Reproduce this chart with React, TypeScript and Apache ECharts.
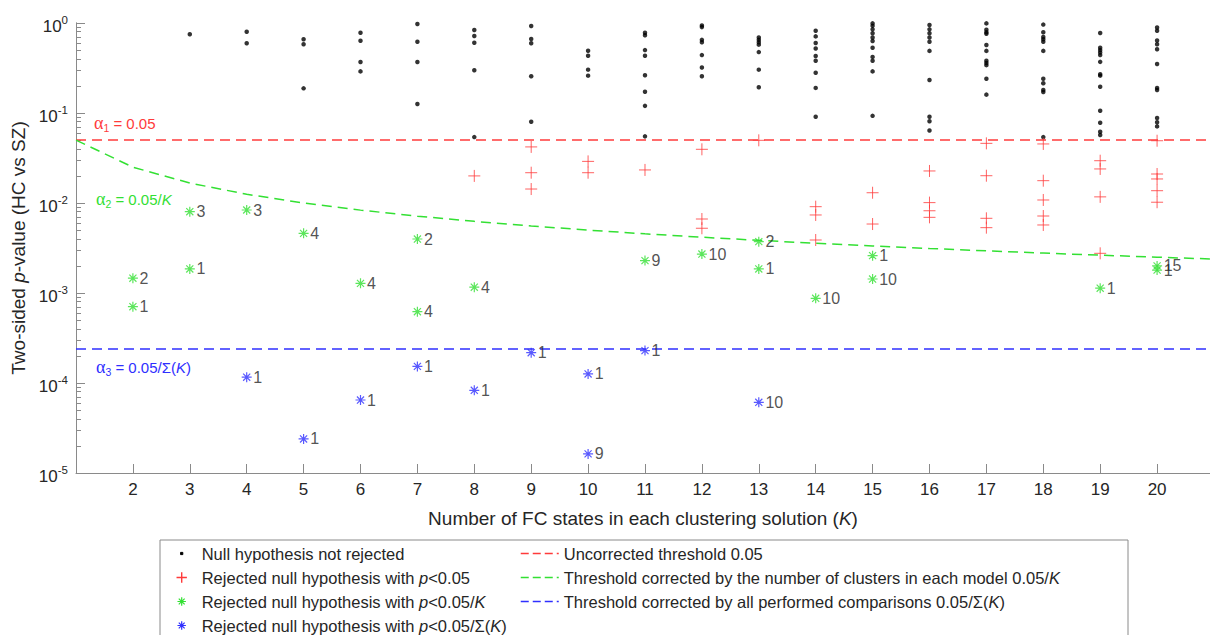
import React, { useEffect, useRef } from "react";
import * as echarts from "echarts";

// ---------- data ----------
const kTicks = [2, 3, 4, 5, 6, 7, 8, 9, 10, 11, 12, 13, 14, 15, 16, 17, 18, 19, 20];

// p-values of comparisons where the null hypothesis was not rejected (index 0 -> K=2)
const notRejectedByK: number[][] = [
  [],
  [0.749],
  [0.8, 0.595],
  [0.659, 0.58, 0.188],
  [0.78, 0.636, 0.369, 0.29],
  [0.975, 0.62, 0.369, 0.126],
  [0.836, 0.717, 0.604, 0.298, 0.054],
  [0.926, 0.664, 0.595, 0.256, 0.08],
  [0.492, 0.433, 0.303, 0.26],
  [0.78, 0.73, 0.5, 0.433, 0.263, 0.172, 0.12, 0.055],
  [0.94, 0.9, 0.65, 0.61, 0.44, 0.32, 0.256],
  [0.69, 0.65, 0.61, 0.575, 0.475, 0.303, 0.193],
  [0.82, 0.71, 0.6, 0.52, 0.43, 0.38, 0.28, 0.19, 0.091],
  [0.99, 0.93, 0.85, 0.77, 0.69, 0.63, 0.53, 0.42, 0.38, 0.29, 0.093],
  [0.95, 0.85, 0.77, 0.69, 0.62, 0.49, 0.233, 0.091, 0.081, 0.064],
  [0.99, 0.84, 0.79, 0.76, 0.57, 0.49, 0.38, 0.36, 0.34, 0.24, 0.16],
  [0.96, 0.79, 0.7, 0.66, 0.62, 0.49, 0.24, 0.214, 0.18, 0.171, 0.054],
  [0.775, 0.53, 0.5, 0.47, 0.44, 0.37, 0.27, 0.26, 0.196, 0.106, 0.078, 0.062, 0.057],
  [0.89, 0.82, 0.64, 0.58, 0.51, 0.35, 0.19, 0.18, 0.088, 0.079, 0.071],
];

// p < 0.05 (index 0 -> K=2)
const rejected05ByK: number[][] = [
  [],
  [],
  [],
  [],
  [],
  [],
  [0.02],
  [0.042, 0.0217, 0.0143],
  [0.029, 0.0217],
  [0.0233],
  [0.0395, 0.00664, 0.00524],
  [0.0497],
  [0.0091, 0.00736, 0.00388],
  [0.013, 0.00584],
  [0.0227, 0.0101, 0.0082, 0.00693],
  [0.046, 0.0201, 0.00676, 0.00532],
  [0.0453, 0.0177, 0.0108, 0.00717, 0.0057],
  [0.0295, 0.0239, 0.0117, 0.00276],
  [0.0492, 0.021, 0.0185, 0.0137, 0.0102],
];

// p < 0.05/K : [K, p, annotation]
const rejectedPerK: [number, number, string][] = [
  [2, 0.00146, "2"],
  [2, 0.000704, "1"],
  [3, 0.008, "3"],
  [3, 0.00185, "1"],
  [4, 0.00836, "3"],
  [5, 0.0046, "4"],
  [6, 0.00128, "4"],
  [7, 0.00398, "2"],
  [7, 0.00062, "4"],
  [8, 0.00116, "4"],
  [11, 0.00229, "9"],
  [12, 0.00271, "10"],
  [13, 0.00372, "2"],
  [13, 0.00185, "1"],
  [14, 0.000873, "10"],
  [15, 0.0026, "1"],
  [15, 0.00143, "10"],
  [19, 0.00113, "1"],
  [20, 0.0018, "1"],
  [20, 0.002, "15"],
];

// p < 0.05/Σ(K) : [K, p, annotation]
const rejectedAll: [number, number, string][] = [
  [4, 0.000116, "1"],
  [5, 0.0000239, "1"],
  [6, 0.0000647, "1"],
  [7, 0.000153, "1"],
  [8, 0.000083, "1"],
  [9, 0.000217, "1"],
  [10, 0.000126, "1"],
  [10, 0.0000163, "9"],
  [11, 0.000229, "1"],
  [13, 0.000061, "10"],
];

// thresholds
const alpha1 = 0.05;
const kLine = [1, 2, 3, 4, 5, 6, 7, 8, 9, 10, 11, 12, 13, 14, 15, 16, 17, 18, 19, 20, 21];
const alpha2ByK = [
  0.05, 0.025, 0.016667, 0.0125, 0.01, 0.008333, 0.007143, 0.00625, 0.005556, 0.005, 0.004545,
  0.004167, 0.003846, 0.003571, 0.003333, 0.003125, 0.002941, 0.002778, 0.002632, 0.0025, 0.002381,
];
const alpha3 = 0.000239; // 0.05 / 209
const yTickValues = [0.00001, 0.0001, 0.001, 0.01, 0.1, 1];
const yMinorTicks = [
  2e-5, 3e-5, 4e-5, 5e-5, 6e-5, 7e-5, 8e-5, 9e-5,
  2e-4, 3e-4, 4e-4, 5e-4, 6e-4, 7e-4, 8e-4, 9e-4,
  2e-3, 3e-3, 4e-3, 5e-3, 6e-3, 7e-3, 8e-3, 9e-3,
  2e-2, 3e-2, 4e-2, 5e-2, 6e-2, 7e-2, 8e-2, 9e-2,
  0.2, 0.3, 0.4, 0.5, 0.6, 0.7, 0.8, 0.9,
];

const seriesNames = [
  "Null hypothesis not rejected",
  "Rejected null hypothesis with p<0.05",
  "Rejected null hypothesis with p<0.05/K",
  "Rejected null hypothesis with p<0.05/Σ(K)",
  "Uncorrected threshold 0.05",
  "Threshold corrected by the number of clusters in each model 0.05/K",
  "Threshold corrected by all performed comparisons 0.05/Σ(K)",
];
const legendRichText: Record<string, string> = {
  [seriesNames[0]]: "Null hypothesis not rejected",
  [seriesNames[1]]: "Rejected null hypothesis with {i|p}<0.05",
  [seriesNames[2]]: "Rejected null hypothesis with {i|p}<0.05/{i|K}",
  [seriesNames[3]]: "Rejected null hypothesis with {i|p}<0.05/Σ({i|K})",
  [seriesNames[4]]: "Uncorrected threshold 0.05",
  [seriesNames[5]]: "Threshold corrected by the number of clusters in each model 0.05/{i|K}",
  [seriesNames[6]]: "Threshold corrected by all performed comparisons 0.05/Σ({i|K})",
};

// ---------- style ----------
const FONT = "'Liberation Sans', Arial, Helvetica, sans-serif";
const TXT = "#262626";
const AXIS = "#8a8a8a";
const RED = "#ff3b3b";
const GREEN = "#33e033";
const BLUE = "#2f2fff";
const DASH = [10, 6];
const LEG_DASH = [8, 4];

const PLUS = "path://M5,0L5,10M0,5L10,5";
const STAR = "path://M5,0L5,10M0,5L10,5M1.46,1.46L8.54,8.54M8.54,1.46L1.46,8.54";
const LEG_DOT = "path://M0,0M10,10M4.2,4.2L5.8,4.2L5.8,5.8L4.2,5.8Z";
const LEG_PLUS = "path://M0,0M10,10M5,1.3L5,8.7M1.3,5L8.7,5";
const LEG_STAR = "path://M0,0M10,10M5,2L5,8M2,5L8,5M2.9,2.9L7.1,7.1M7.1,2.9L2.9,7.1";

const toPoints = (byK: number[][]) =>
  byK.flatMap((ps, i) => ps.map((p) => [kTicks[i], p]));

const pointLabel = {
  show: true,
  position: "right" as const,
  distance: 1,
  color: TXT,
  fontSize: 16,
  fontFamily: FONT,
  formatter: (p: any) => String(p.value[2]),
};

const alphaRich = (color: string) => ({
  a: { fontFamily: "'Liberation Serif', 'DejaVu Serif', serif", fontSize: 18, fill: color, lineHeight: 20 },
  s: { fontFamily: FONT, fontSize: 10.5, fill: color, lineHeight: 8, verticalAlign: "bottom" },
  t: { fontFamily: FONT, fontSize: 15, fill: color, lineHeight: 20 },
  i: { fontFamily: FONT, fontSize: 15, fill: color, lineHeight: 20, fontStyle: "italic" },
});

const legendTextStyle = {
  fontFamily: FONT,
  fontSize: 16.5,
  color: TXT,
  rich: { i: { fontFamily: FONT, fontSize: 16.5, color: TXT, fontStyle: "italic" } },
};

const legendMarker = (name: string, icon: string, color: string, width: number) => ({
  name,
  icon,
  itemStyle: { color, borderColor: color, borderWidth: width, opacity: 1 },
});

function buildOption(): any {
  return {
    animation: false,
    backgroundColor: "#ffffff",
    grid: { left: 76, top: 23, right: 0, bottom: 162, containLabel: false },
    xAxis: {
      type: "value",
      min: 1,
      max: 20.93,
      splitLine: { show: false },
      axisLine: { show: true, lineStyle: { color: AXIS, width: 1 } },
      axisTick: { show: true, inside: true, length: 9, customValues: kTicks, lineStyle: { color: AXIS } },
      axisLabel: { customValues: kTicks, margin: 8, fontSize: 17, fontFamily: FONT, color: TXT },
      name: "{n|Number of FC states in each clustering solution (}{i|K}{n|)}",
      nameLocation: "middle",
      nameGap: 36,
      nameTextStyle: {
        rich: {
          n: { fontSize: 19, fontFamily: FONT, color: TXT },
          i: { fontSize: 19, fontFamily: FONT, color: TXT, fontStyle: "italic" },
        },
      },
    },
    yAxis: [
      {
        type: "log",
        logBase: 10,
        min: 0.00001,
        max: 1,
        splitLine: { show: false },
        axisLine: { show: true, lineStyle: { color: AXIS, width: 1 } },
        axisTick: { show: true, inside: true, length: 9, customValues: yTickValues, lineStyle: { color: AXIS } },
        axisLabel: {
          customValues: yTickValues,
          margin: 8,
          padding: [6, 0, 0, 0],
          formatter: (v: number) => `{b|10}{s|${Math.round(Math.log10(v))}}`,
          rich: {
            b: { fontSize: 17, fontFamily: FONT, color: TXT, lineHeight: 24 },
            s: { fontSize: 11.5, fontFamily: FONT, color: TXT, lineHeight: 12, verticalAlign: "top" },
          },
        },
        name: "{n|Two-sided }{i|p}{n|-value (HC vs SZ)}",
        nameLocation: "middle",
        nameGap: 43,
        nameTextStyle: {
          rich: {
            n: { fontSize: 19, fontFamily: FONT, color: TXT },
            i: { fontSize: 19, fontFamily: FONT, color: TXT, fontStyle: "italic" },
          },
        },
      },
      {
        type: "log",
        logBase: 10,
        min: 0.00001,
        max: 1,
        position: "left",
        offset: 0,
        splitLine: { show: false },
        axisLine: { show: true, lineStyle: { color: AXIS, width: 1 } },
        axisTick: { show: true, inside: true, length: 5, customValues: yMinorTicks, lineStyle: { color: AXIS } },
        axisLabel: { show: false },
      },
    ],
    legend: [
      {
        orient: "vertical",
        left: 174,
        top: 545,
        padding: 0,
        itemWidth: 30,
        itemHeight: 14,
        itemGap: 7,
        selectedMode: false,
        textStyle: legendTextStyle,
        formatter: (name: string) => legendRichText[name] || name,
        data: [
          legendMarker(seriesNames[0], LEG_DOT, "#000000", 1),
          legendMarker(seriesNames[1], LEG_PLUS, RED, 1.4),
          legendMarker(seriesNames[2], LEG_STAR, GREEN, 1.2),
          legendMarker(seriesNames[3], LEG_STAR, BLUE, 1.2),
        ],
      },
      {
        orient: "vertical",
        left: 520,
        top: 545,
        padding: 0,
        itemWidth: 38,
        itemHeight: 14,
        itemGap: 7,
        selectedMode: false,
        textStyle: legendTextStyle,
        formatter: (name: string) => legendRichText[name] || name,
        itemStyle: { color: "rgba(0,0,0,0)", borderColor: "rgba(0,0,0,0)", borderWidth: 0, opacity: 0 },
        lineStyle: { width: 1.5, type: LEG_DASH },
        data: [seriesNames[4], seriesNames[5], seriesNames[6]],
      },
    ],
    graphic: [
      {
        type: "rect",
        z: 0,
        shape: { x: 160, y: 540, width: 968, height: 120 },
        style: { fill: "none", stroke: AXIS, lineWidth: 1 },
      },
      {
        type: "text",
        x: 94,
        y: 123,
        style: { text: "{a|α}{s|1}{t| = 0.05}", fill: RED, verticalAlign: "middle", rich: alphaRich(RED) },
      },
      {
        type: "text",
        x: 96,
        y: 199,
        style: { text: "{a|α}{s|2}{t| = 0.05/}{i|K}", fill: GREEN, verticalAlign: "middle", rich: alphaRich(GREEN) },
      },
      {
        type: "text",
        x: 96,
        y: 367,
        style: { text: "{a|α}{s|3}{t| = 0.05/Σ(}{i|K}{t|)}", fill: BLUE, verticalAlign: "middle", rich: alphaRich(BLUE) },
      },
    ],
    series: [
      {
        name: seriesNames[0],
        type: "scatter",
        data: toPoints(notRejectedByK),
        symbol: "circle",
        symbolSize: 4.5,
        itemStyle: { color: "#000000" },
        z: 3,
      },
      {
        name: seriesNames[1],
        type: "scatter",
        data: toPoints(rejected05ByK),
        symbol: PLUS,
        symbolSize: 12,
        itemStyle: { color: RED, borderColor: RED, borderWidth: 1 },
        z: 3,
      },
      {
        name: seriesNames[2],
        type: "scatter",
        data: rejectedPerK,
        symbol: STAR,
        symbolSize: 10,
        itemStyle: { color: GREEN, borderColor: GREEN, borderWidth: 1.2 },
        label: pointLabel,
        z: 4,
      },
      {
        name: seriesNames[3],
        type: "scatter",
        data: rejectedAll,
        symbol: STAR,
        symbolSize: 10,
        itemStyle: { color: BLUE, borderColor: BLUE, borderWidth: 1.2 },
        label: pointLabel,
        z: 4,
      },
      {
        name: seriesNames[4],
        type: "line",
        data: [
          [kLine[0], alpha1],
          [kLine[kLine.length - 1], alpha1],
        ],
        symbol: "none",
        silent: true,
        itemStyle: { color: RED },
        lineStyle: { color: RED, width: 1.5, type: DASH },
        z: 2,
      },
      {
        name: seriesNames[5],
        type: "line",
        data: kLine.map((k, i) => [k, alpha2ByK[i]]),
        symbol: "none",
        silent: true,
        itemStyle: { color: GREEN },
        lineStyle: { color: GREEN, width: 1.5, type: DASH },
        z: 2,
      },
      {
        name: seriesNames[6],
        type: "line",
        data: [
          [kLine[0], alpha3],
          [kLine[kLine.length - 1], alpha3],
        ],
        symbol: "none",
        silent: true,
        itemStyle: { color: BLUE },
        lineStyle: { color: BLUE, width: 1.5, type: DASH },
        z: 2,
      },
    ],
  };
}

export default function App() {
  const ref = useRef<HTMLDivElement>(null);
  useEffect(() => {
    document.body.style.margin = "0";
    if (!ref.current) return;
    const chart = echarts.init(ref.current, null, { renderer: "svg" });
    chart.setOption(buildOption());
    return () => chart.dispose();
  }, []);
  return (
    <div
      ref={ref}
      style={{ position: "absolute", left: 0, top: 0, width: 1210, height: 635, background: "#ffffff" }}
    />
  );
}
